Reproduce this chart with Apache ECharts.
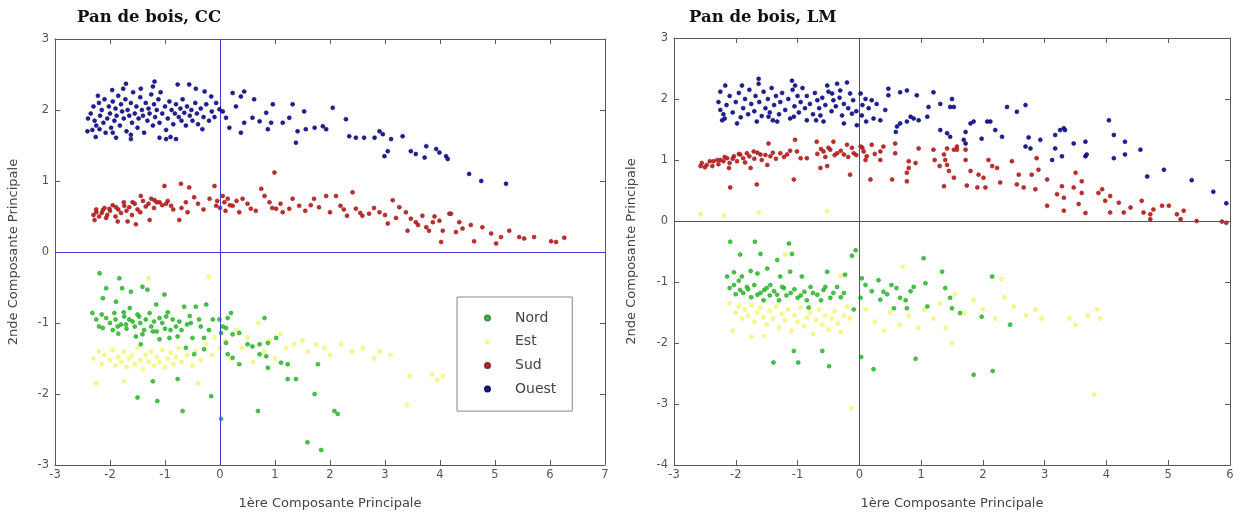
<!DOCTYPE html>
<html>
<head>
<meta charset="utf-8">
<script src="https://cdn.jsdelivr.net/npm/echarts@6/dist/echarts.min.js"></script>
<style>
  html, body { margin: 0; padding: 0; background: #fff; }
  #main { width: 1242px; height: 515px; }
</style>
</head>
<body>
<div id="main"></div>
<script>
// panel titles, legend and axis names
var titles = ['Pan de bois, CC', 'Pan de bois, LM'];
var groups = ['Nord', 'Est', 'Sud', 'Ouest'];
var xName = '1ère Composante Principale';
var yName = '2nde Composante Principale';

// axis ranges [min, max] (step 1)
var ccX = [-3, 7], ccY = [-3, 3];
var lmX = [-3, 6], lmY = [-4, 3];

// ---- Pan de bois, CC ----
var ccOuest = [
  [-1.71,2.37],[-1.19,2.40],[-1.22,2.33],[-0.77,2.36],[-0.56,2.36],[-0.44,2.30],[-0.28,2.26],[-0.16,2.19],
  [0.23,2.24],[0.44,2.26],[0.38,2.19],[-0.07,2.10],[-0.01,2.01],[0.05,1.98],[0.11,1.89],[0.17,1.75],
  [0.29,2.05],[0.62,2.15],[0.96,2.08],[0.84,1.96],[0.72,1.84],[0.59,1.89],[0.44,1.82],[0.38,1.68],
  [0.93,1.82],[0.87,1.73],[1.14,1.82],[1.26,1.89],[1.32,2.08],[1.53,1.98],[2.05,2.03],[1.41,1.70],
  [1.56,1.73],[1.72,1.75],[1.87,1.77],[1.93,1.73],[1.38,1.54],[2.29,1.87],[2.35,1.63],[2.47,1.61],
  [2.62,1.61],[2.81,1.61],[2.90,1.70],[2.96,1.66],[3.11,1.59],[3.32,1.63],[2.99,1.35],[3.05,1.42],
  [3.47,1.42],[3.56,1.38],[3.72,1.33],[3.75,1.49],[3.93,1.45],[3.99,1.40],[4.11,1.35],[4.14,1.31],
  [4.53,1.10],[4.75,1.00],[5.20,0.96],
  [-0.32,1.73],[-0.80,1.59],[-0.98,1.59],[-1.10,1.61],[-1.62,1.59],[-1.89,1.61],[-1.95,1.68],[-2.41,1.70],[-2.19,1.73],
  [-2.35,1.95],[-2.30,2.05],[-2.28,1.85],[-2.25,1.78],[-2.20,2.10],[-2.18,1.92],[-2.15,2.00],[-2.12,1.82],
  [-2.10,2.15],[-2.05,1.88],[-2.02,2.05],[-2.00,1.95],[-1.98,1.75],[-1.95,2.12],[-1.92,1.85],[-1.90,2.02],
  [-1.88,1.92],[-1.85,2.20],[-1.82,1.78],[-1.80,2.08],[-1.78,1.98],[-1.75,1.88],[-1.72,2.15],[-1.70,1.70],
  [-1.68,2.00],[-1.65,1.92],[-1.62,2.10],[-1.60,1.82],[-1.58,2.25],[-1.55,1.95],[-1.52,2.05],[-1.50,1.75],
  [-1.48,1.88],[-1.45,2.18],[-1.42,2.00],[-1.40,1.92],[-1.38,1.68],[-1.35,2.10],[-1.32,1.85],[-1.30,2.02],
  [-1.28,1.95],[-1.25,2.22],[-1.22,1.78],[-1.20,2.08],[-1.18,1.90],[-1.15,2.00],[-1.12,2.15],[-1.10,1.82],
  [-1.05,1.95],[-1.00,2.05],[-0.98,1.72],[-0.95,1.88],[-0.92,2.12],[-0.88,2.00],[-0.85,1.80],[-0.82,1.95],
  [-0.80,2.08],[-0.75,1.90],[-0.72,2.02],[-0.70,1.85],[-0.68,2.15],[-0.65,1.96],[-0.62,1.78],[-0.60,2.05],
  [-0.55,1.92],[-0.52,2.00],[-0.50,1.85],[-0.45,2.10],[-0.42,1.95],[-0.40,1.80],[-0.35,2.02],[-0.30,1.90],
  [-0.25,2.08],[-0.20,1.85],[-0.15,1.98],[-0.10,1.90],[-2.32,1.72],[-2.40,1.88],[-2.22,2.20],[-2.08,1.68],
  [-1.96,2.28],[-1.76,2.30],[-1.62,1.65],[-1.44,2.30],[-1.08,2.25],[-0.90,1.62],[-2.26,1.62]
];
var ccSud = [
  [0.99,1.12],[-1.01,0.93],[-0.71,0.96],[-0.56,0.91],[-0.10,0.93],[-0.47,0.77],[-0.62,0.70],[-0.59,0.56],
  [-0.74,0.45],[-1.28,0.45],[-1.53,0.39],[-1.68,0.43],[-1.86,0.43],[-2.07,0.48],[-2.28,0.45],[-2.25,0.56],
  [-2.13,0.59],[-2.01,0.61],[-1.89,0.63],[-1.74,0.65],[-1.59,0.70],[-1.44,0.79],[-1.19,0.73],[-1.10,0.70],
  [-0.98,0.68],[-0.89,0.65],[-0.19,0.75],[-0.07,0.65],[0.05,0.79],[0.14,0.75],[0.23,0.65],[0.35,0.56],
  [0.41,0.75],[0.56,0.61],[0.75,0.89],[0.81,0.79],[0.90,0.70],[1.02,0.61],[1.14,0.56],[1.26,0.61],
  [1.32,0.75],[1.44,0.65],[1.71,0.75],[1.80,0.63],[1.93,0.79],[2.11,0.79],[2.19,0.65],[2.31,0.51],
  [2.41,0.84],[2.47,0.61],[2.59,0.51],[2.71,0.54],[2.90,0.56],[3.05,0.40],[3.14,0.73],[3.26,0.63],
  [3.38,0.56],[3.47,0.47],[3.56,0.42],[3.68,0.51],[3.41,0.30],[3.75,0.35],[3.87,0.42],[4.02,0.14],
  [4.17,0.54],[3.99,0.44],[4.05,0.30],[4.20,0.54],[4.35,0.42],[4.41,0.33],[4.29,0.28],[4.56,0.38],
  [4.62,0.15],[4.77,0.35],[4.93,0.26],[5.02,0.12],[5.11,0.21],[5.26,0.30],[5.44,0.21],[5.53,0.19],
  [5.71,0.21],[6.02,0.15],[6.11,0.14],[6.26,0.20],
  [-2.30,0.52],[-2.25,0.60],[-2.20,0.50],[-2.15,0.55],[-2.10,0.62],[-2.05,0.52],[-2.00,0.58],[-1.95,0.66],
  [-1.90,0.50],[-1.85,0.60],[-1.80,0.55],[-1.75,0.70],[-1.70,0.58],[-1.65,0.63],[-1.60,0.52],[-1.55,0.68],
  [-1.50,0.60],[-1.45,0.56],[-1.40,0.72],[-1.35,0.64],[-1.30,0.68],[-1.25,0.75],[-1.20,0.62],[-1.15,0.70],
  [-1.05,0.66],[-0.95,0.72],[-0.85,0.60],[-0.70,0.62],[-0.40,0.68],[-0.30,0.60],[-0.05,0.72],[0.00,0.62],
  [0.08,0.70],[0.10,0.58],[0.18,0.66],[0.30,0.72],[0.50,0.68],[0.65,0.58],[0.95,0.62],[1.10,0.68],
  [1.55,0.58],[1.65,0.66],[2.00,0.56],[2.25,0.60],[2.55,0.55],[2.80,0.62],[3.00,0.52],[3.20,0.48],
  [3.60,0.38],[3.80,0.30],[3.90,0.50]
];
var ccNord = [
  [-2.19,-0.30],[-1.83,-0.37],[-2.07,-0.51],[-1.78,-0.51],[-1.62,-0.56],[-1.41,-0.49],[-1.32,-0.53],[-2.13,-0.65],
  [-1.89,-0.70],[-1.64,-0.79],[-1.01,-0.60],[-1.16,-0.74],[-2.32,-0.86],[-2.07,-0.93],[-1.92,-0.86],[-1.74,-0.91],
  [-1.59,-0.98],[-1.47,-0.91],[-1.28,-0.86],[-1.10,-0.93],[-0.98,-0.91],[-0.86,-0.95],[-0.74,-0.98],[-0.65,-0.77],
  [-0.44,-0.77],[-0.25,-0.74],[-0.53,-1.00],[-0.38,-0.95],[-0.13,-0.95],[-0.01,-0.95],[0.14,-0.93],[0.20,-0.86],
  [0.11,-1.07],[0.02,-1.14],[0.23,-1.16],[0.35,-1.14],[0.81,-0.93],[-2.13,-1.07],[-1.86,-1.05],[-1.71,-1.02],
  [-1.53,-1.19],[-1.41,-1.16],[-1.22,-1.12],[-1.10,-1.23],[-0.92,-1.21],[-0.77,-1.19],[-0.50,-1.21],[-0.29,-1.21],
  [-1.44,-1.30],[-0.62,-1.35],[-0.47,-1.44],[-0.29,-1.37],[0.11,-1.28],[0.14,-1.44],[0.23,-1.49],[0.35,-1.58],
  [0.50,-1.30],[0.59,-1.33],[0.72,-1.30],[0.87,-1.28],[1.02,-1.21],[0.72,-1.44],[0.84,-1.47],[0.87,-1.63],
  [1.11,-1.56],[1.23,-1.58],[1.23,-1.79],[1.38,-1.79],[1.78,-1.58],[1.72,-2.00],[2.08,-2.24],[2.14,-2.28],
  [-1.22,-1.82],[-0.77,-1.79],[-1.50,-2.05],[-1.14,-2.10],[-0.16,-2.03],[-0.68,-2.24],[0.69,-2.24],[0.02,-2.35],
  [1.59,-2.68],[1.84,-2.79],
  [-2.25,-0.95],[-2.20,-1.05],[-2.15,-0.88],[-2.00,-1.00],[-1.95,-1.10],[-1.90,-0.95],[-1.85,-1.15],[-1.80,-1.02],
  [-1.75,-0.85],[-1.70,-1.08],[-1.65,-0.95],[-1.55,-1.05],[-1.50,-0.88],[-1.45,-1.00],[-1.38,-1.10],[-1.35,-0.95],
  [-1.25,-1.05],[-1.20,-0.98],[-1.15,-1.12],[-1.05,-1.00],[-1.00,-1.08],[-0.95,-0.85],[-0.90,-1.10],[-0.80,-1.05],
  [-0.70,-1.10],[-0.60,-1.02],[-0.55,-0.90],[-0.35,-1.05],[-0.20,-1.10],[0.05,-1.05]
];
var ccEst = [
  [-2.30,-1.50],[-2.20,-1.40],[-2.15,-1.58],[-2.10,-1.45],[-2.00,-1.52],[-1.95,-1.38],[-1.90,-1.60],[-1.85,-1.48],
  [-1.80,-1.55],[-1.75,-1.40],[-1.70,-1.62],[-1.65,-1.50],[-1.60,-1.45],[-1.55,-1.58],[-1.50,-1.35],[-1.45,-1.52],
  [-1.40,-1.65],[-1.35,-1.45],[-1.30,-1.55],[-1.25,-1.40],[-1.20,-1.60],[-1.15,-1.48],[-1.10,-1.55],[-1.05,-1.38],
  [-1.00,-1.62],[-0.95,-1.50],[-0.90,-1.42],[-0.85,-1.58],[-0.80,-1.48],[-0.75,-1.35],[-0.70,-1.55],[-0.60,-1.45],
  [-0.50,-1.60],[-0.45,-1.40],[-0.35,-1.52],[-0.25,-1.30],[-0.15,-1.45],[-0.10,-1.20],[0.00,-1.35],[0.10,-1.25],
  [0.20,-1.50],[0.30,-1.10],[0.40,-1.35],[0.50,-1.20],[0.60,-1.55],[0.70,-1.00],[0.80,-1.40],[0.90,-1.25],
  [1.00,-1.50],[1.10,-1.15],[1.20,-1.35],[1.35,-1.30],[1.50,-1.25],[1.60,-1.40],[1.75,-1.30],[1.90,-1.35],
  [2.00,-1.45],[2.20,-1.30],[2.40,-1.40],[2.60,-1.35],[2.80,-1.50],[2.90,-1.40],[3.10,-1.45],[3.45,-1.75],
  [3.85,-1.72],[3.95,-1.80],[4.05,-1.75],[3.40,-2.15],[-1.75,-1.82],[-1.30,-0.37],[-0.20,-0.35],[-2.25,-1.85],
  [-0.40,-1.85]
];

// ---- Pan de bois, LM ----
var lmOuest = [
  [-2.17,2.22],[-1.63,2.33],[-1.63,2.25],[-1.09,2.30],[-1.04,2.22],[-0.52,2.22],[-0.36,2.25],[-0.20,2.27],
  [-0.31,2.14],[-0.44,2.09],[-0.15,2.09],[0.02,2.09],[0.10,2.00],[0.20,1.98],[0.47,2.17],[0.47,2.06],
  [0.66,2.11],[0.77,2.14],[0.93,2.06],[1.20,2.11],[0.42,1.82],[0.34,1.65],[0.23,1.68],[0.11,1.63],
  [-0.04,1.57],[-0.25,1.60],[-0.28,1.73],[-0.12,1.76],[0.04,1.73],[0.83,1.71],[0.88,1.68],[0.77,1.63],
  [0.66,1.60],[0.61,1.55],[0.59,1.46],[0.96,1.65],[1.10,1.71],[1.12,1.87],[1.31,1.92],[1.47,1.87],
  [1.31,1.49],[1.42,1.44],[1.47,1.38],[-0.58,1.63],[-0.63,1.73],[-0.85,1.65],[-1.06,1.71],[-1.33,1.63],
  [-1.47,1.71],[-1.66,1.63],[-1.98,1.60],[-2.22,1.65],[-2.25,1.82],[-2.28,1.95],
  [1.50,2.00],[1.53,1.87],[1.72,1.46],[1.80,1.60],[1.85,1.63],[1.69,1.33],[1.72,1.27],[2.07,1.63],
  [2.12,1.63],[2.20,1.49],[2.31,1.38],[2.39,1.87],[2.55,1.79],[2.69,1.90],[2.69,1.22],[2.77,1.19],
  [2.74,1.37],[2.93,1.33],[3.12,1.00],[3.17,1.19],[3.17,1.41],[3.25,1.49],[3.33,1.49],[3.31,1.52],
  [3.28,1.06],[3.47,1.27],[3.66,1.30],[3.66,1.06],[3.68,1.09],[4.04,1.65],[4.12,1.41],[4.30,1.30],
  [4.30,1.09],[4.12,1.03],[4.55,1.17],[4.66,0.73],[4.93,0.84],[5.38,0.67],[5.73,0.48],[5.94,0.29],[1.98,1.35],
  [-2.20,1.75],[-2.15,1.90],[-2.10,2.05],[-2.05,1.78],[-2.00,1.95],[-1.95,2.10],[-1.92,1.70],[-1.88,1.85],
  [-1.85,2.00],[-1.80,1.75],[-1.78,2.15],[-1.75,1.92],[-1.70,1.80],[-1.68,2.05],[-1.62,1.95],[-1.58,1.72],
  [-1.55,2.12],[-1.52,1.85],[-1.48,2.00],[-1.45,1.78],[-1.42,2.18],[-1.38,1.90],[-1.35,2.05],[-1.30,1.75],
  [-1.28,1.95],[-1.25,2.10],[-1.20,1.82],[-1.15,2.00],[-1.12,1.68],[-1.08,2.15],[-1.05,1.88],[-1.00,2.05],
  [-0.98,1.78],[-0.95,1.95],[-0.92,2.18],[-0.88,1.85],[-0.85,2.05],[-0.80,1.92],[-0.75,1.75],[-0.72,2.10],
  [-0.68,1.98],[-0.65,1.85],[-0.60,2.02],[-0.55,1.90],[-0.50,2.12],[-0.45,1.80],[-0.42,1.98],[-0.38,1.88],
  [-0.32,2.02],[-0.25,1.92],[-0.18,1.85],[-0.10,1.98],[-0.05,1.80],[0.05,1.90],[0.15,1.85],[0.28,1.92],
  [-2.18,1.68],[-1.90,2.22],[-1.40,1.65],[-0.70,1.65],[-2.25,2.12]
];
var lmSud = [
  [-1.47,1.27],[-1.04,1.33],[-0.69,1.30],[-0.42,1.30],[-0.20,1.25],[0.02,1.22],[0.20,1.25],[0.39,1.22],
  [0.58,1.27],[0.96,1.19],[1.20,1.17],[1.42,1.19],[1.58,1.22],[1.37,1.09],[1.39,1.00],[1.42,0.92],
  [0.91,0.95],[0.80,0.98],[0.80,0.87],[0.77,0.79],[0.77,0.65],[0.53,0.68],[0.18,0.68],[-0.15,0.76],
  [-0.52,0.90],[-0.63,0.87],[-1.06,0.68],[-1.49,0.92],[-1.76,0.87],[-1.66,0.60],[-2.09,0.55],[-2.11,0.87],
  [-2.57,0.90],[-2.47,0.92],[-2.36,0.98],[-2.25,1.00],[-2.14,1.03],[-2.03,1.06],[-1.93,1.09],[-1.82,1.11],
  [-1.71,1.14],[-1.60,1.09],[-1.44,1.06],[-1.28,1.11],[-1.17,1.09],[-1.01,1.14],[-0.95,1.03],[-0.85,1.03],
  [-0.58,1.14],[-0.47,1.17],[-0.36,1.11],[-0.25,1.09],[-0.09,1.11],[0.07,1.14],[0.12,1.06],[0.34,1.00],
  [0.34,1.14],[0.58,1.11],[1.37,0.57],[1.53,0.71],[1.53,1.17],
  [1.58,1.17],[1.72,1.17],[1.72,1.00],[1.80,0.82],[1.93,0.76],[2.01,0.71],[1.74,0.58],[1.91,0.55],
  [2.04,0.55],[2.09,1.00],[2.15,0.90],[2.23,0.87],[2.47,0.98],[2.58,0.76],[2.55,0.60],[2.66,0.55],
  [2.79,0.76],[2.87,1.03],[2.90,0.84],[2.85,0.52],[3.04,0.68],[3.04,0.25],[3.20,0.44],[3.28,0.57],
  [3.31,0.38],[3.31,0.17],[3.47,0.55],[3.50,0.79],[3.60,0.65],[3.60,0.46],[3.55,0.28],[3.66,0.13],
  [3.87,0.46],[3.93,0.52],[3.98,0.33],[4.06,0.41],[4.06,0.14],[4.20,0.30],[4.28,0.14],[4.39,0.22],
  [4.57,0.33],[4.60,0.14],[4.71,0.11],[4.71,0.03],[4.76,0.19],[4.90,0.25],[5.01,0.25],[5.14,0.11],
  [5.25,0.17],[5.20,0.03],[5.46,0.00],[5.87,-0.01],[5.94,-0.03],[2.28,0.63],
  [-2.55,0.95],[-2.50,0.88],[-2.42,0.98],[-2.38,0.90],[-2.30,1.00],[-2.28,0.93],[-2.20,0.98],[-2.18,1.05],
  [-2.10,0.95],[-2.05,1.02],[-1.98,0.98],[-1.95,1.10],[-1.88,1.03],[-1.85,0.96],[-1.78,1.06],[-1.70,1.02],
  [-1.65,1.12],[-1.58,1.00],[-1.52,1.08],[-1.40,1.12],[-1.35,1.02],[-1.22,1.05],[-1.12,1.15],[-0.68,1.10],
  [-0.62,1.18],[-0.55,1.05],[-0.50,1.20],[-0.40,1.08],[-0.30,1.15],[-0.18,1.05],[-0.12,1.20],[-0.05,1.08],
  [0.05,1.20],[0.10,1.00],[0.25,1.10],[1.22,1.00],[1.30,0.90],[1.45,0.82]
];
var lmNord = [
  [-2.09,-0.34],[-1.69,-0.34],[-1.14,-0.37],[-1.93,-0.55],[-1.60,-0.54],[-1.09,-0.54],[-1.33,-0.64],[-0.06,-0.48],
  [-0.12,-0.57],[-2.14,-0.91],[-2.03,-0.84],[-1.90,-0.91],[-1.76,-0.82],[-1.65,-0.86],[-1.49,-0.78],[-1.28,-0.91],
  [-1.12,-0.83],[-0.93,-0.91],[-0.52,-0.83],[-0.23,-0.88],[0.04,-0.94],[-2.03,-1.05],[-1.93,-1.13],[-1.82,-1.08],
  [-1.65,-1.21],[-1.54,-1.13],[-1.44,-1.05],[-1.33,-1.21],[-1.22,-1.10],[-1.11,-1.18],[-1.00,-1.26],[-0.89,-1.16],
  [-0.79,-1.08],[-0.68,-1.21],[-0.58,-1.13],[-0.47,-1.26],[-0.36,-1.08],[-0.25,-1.18],[-0.82,-1.42],[-0.09,-1.45],
  [0.02,-1.26],[0.10,-1.05],[0.31,-0.97],[0.39,-1.16],[0.34,-1.29],[0.56,-1.43],[0.52,-1.05],[0.66,-1.26],
  [0.83,-1.15],[0.88,-1.08],[0.77,-1.43],[1.04,-0.61],[1.07,-1.02],[1.10,-1.40],[1.34,-0.83],[1.39,-1.10],
  [1.47,-1.26],[1.50,-1.43],[1.63,-1.51],[1.98,-1.57],[2.15,-0.91],[2.44,-1.70],[-1.06,-2.13],[-0.60,-2.13],
  [-1.39,-2.32],[-0.99,-2.32],[-0.49,-2.38],[0.03,-2.23],[0.23,-2.43],[0.91,-2.26],[1.85,-2.52],[2.16,-2.46],
  [-2.10,-1.10],[-2.00,-1.20],[-1.95,-0.98],[-1.88,-1.18],[-1.80,-1.12],[-1.75,-1.25],[-1.70,-1.05],[-1.60,-1.18],
  [-1.55,-1.30],[-1.50,-1.10],[-1.45,-1.22],[-1.38,-1.15],[-1.30,-1.30],[-1.25,-1.08],[-1.18,-1.22],[-1.05,-1.12],
  [-0.95,-1.22],[-0.85,-1.30],[-0.75,-1.18],[-0.62,-1.30],[-0.55,-1.08],[-0.42,-1.18],[-0.30,-1.25],[0.20,-1.15],
  [0.45,-1.20],[0.60,-1.10],[0.75,-1.30]
];
var lmEst = [
  [-2.10,-1.35],[-2.00,-1.50],[-1.95,-1.40],[-1.90,-1.60],[-1.85,-1.45],[-1.80,-1.55],[-1.75,-1.38],[-1.70,-1.65],
  [-1.65,-1.50],[-1.60,-1.42],[-1.55,-1.58],[-1.50,-1.70],[-1.45,-1.48],[-1.40,-1.60],[-1.35,-1.40],[-1.30,-1.75],
  [-1.25,-1.52],[-1.20,-1.62],[-1.15,-1.45],[-1.10,-1.80],[-1.05,-1.55],[-1.00,-1.65],[-0.95,-1.42],[-0.90,-1.72],
  [-0.85,-1.58],[-0.80,-1.50],[-0.75,-1.85],[-0.70,-1.62],[-0.65,-1.45],[-0.60,-1.70],[-0.55,-1.55],[-0.50,-1.78],
  [-0.45,-1.60],[-0.40,-1.48],[-0.35,-1.68],[-0.30,-1.82],[-0.25,-1.55],[-0.20,-1.40],[-0.15,-1.60],[-1.75,-1.90],
  [-1.55,-1.88],[-2.05,-1.80],
  [0.10,-1.45],[0.25,-1.65],[0.40,-1.80],[0.50,-1.50],[0.65,-1.70],[0.80,-1.55],[0.95,-1.75],[1.05,-1.45],
  [1.20,-1.60],[1.30,-1.35],[1.40,-1.75],[1.55,-1.20],[1.70,-1.50],[1.85,-1.30],[2.00,-1.45],[2.20,-1.60],
  [2.35,-1.25],[2.50,-1.40],[2.70,-1.55],[2.85,-1.45],[2.95,-1.60],[3.40,-1.60],[3.50,-1.70],[3.70,-1.55],
  [3.85,-1.45],[3.90,-1.60],[0.70,-0.75],[2.30,-0.95],[-0.30,-0.90],[-2.57,0.11],[-2.19,0.09],[-1.63,0.14],
  [-0.52,0.16],[-0.13,-3.07],[3.80,-2.85],[1.50,-2.00],[-1.20,-0.55]
];

var colors = { Nord: '#2ad02a', Est: '#f0f04a', Sud: '#c81e1e', Ouest: '#12129a' };
var borders = { Nord: '#3a8a3a', Est: '#e8e870', Sud: '#8a2020', Ouest: '#0a0a60' };
var textColor = '#555';
var sans = 'DejaVu Sans';

var chart = echarts.init(document.getElementById('main'));

var grids = [
  { left: 55, top: 39, width: 550, height: 428 },
  { left: 674, top: 38, width: 556, height: 431 }
];

function xAxes(gi, range) {
  var base = {
    gridIndex: gi, type: 'value', min: range[0], max: range[1], interval: 1,
    splitLine: { show: false },
    axisLine: { show: true, onZero: false, lineStyle: { color: '#5a5a5a', width: 1 } },
    axisTick: { show: true, inside: true, length: 5, lineStyle: { color: '#5a5a5a' } }
  };
  var bottom = echarts.util.merge({
    position: 'bottom',
    name: xName, nameLocation: 'middle', nameGap: 32,
    nameTextStyle: { color: '#444', fontSize: 13, fontFamily: sans },
    axisLabel: { color: textColor, fontSize: 11.5, fontFamily: sans, margin: 4 }
  }, base, true);
  var top = echarts.util.merge({ position: 'top', axisLabel: { show: false } }, base, true);
  return [bottom, top];
}

function yAxes(gi, range, gap) {
  var base = {
    gridIndex: gi, type: 'value', min: range[0], max: range[1], interval: 1,
    splitLine: { show: false },
    axisLine: { show: true, onZero: false, lineStyle: { color: '#5a5a5a', width: 1 } },
    axisTick: { show: true, inside: true, length: 5, lineStyle: { color: '#5a5a5a' } }
  };
  var left = echarts.util.merge({
    position: 'left',
    name: yName, nameLocation: 'middle', nameGap: gap,
    nameTextStyle: { color: '#444', fontSize: 13, fontFamily: sans },
    axisLabel: { color: textColor, fontSize: 11.5, fontFamily: sans, margin: 6 }
  }, base, true);
  var right = echarts.util.merge({ position: 'right', axisLabel: { show: false } }, base, true);
  return [left, right];
}

var xs = xAxes(0, ccX).concat(xAxes(1, lmX));
var ys = yAxes(0, ccY, 35).concat(yAxes(1, lmY, 36));

function scatter(name, data, axisIdx, z) {
  var est = name === 'Est';
  return {
    name: name, type: 'scatter', data: data,
    xAxisIndex: axisIdx, yAxisIndex: axisIdx,
    symbol: 'circle', symbolSize: est ? 5 : 4,
    itemStyle: { color: colors[name], borderColor: borders[name], borderWidth: est ? 0 : 0.6, opacity: est ? 0.6 : 0.95 },
    z: z, silent: true, animation: false
  };
}

function zeroLines(axisIdx, color) {
  return {
    type: 'scatter', data: [], xAxisIndex: axisIdx, yAxisIndex: axisIdx, z: 1,
    markLine: {
      silent: true, symbol: 'none', animation: false, label: { show: false },
      lineStyle: { color: color, width: 1, type: 'solid', opacity: 1 },
      data: [{ xAxis: 0 }, { yAxis: 0 }]
    }
  };
}

var data = {
  cc: { Nord: ccNord, Est: ccEst, Sud: ccSud, Ouest: ccOuest },
  lm: { Nord: lmNord, Est: lmEst, Sud: lmSud, Ouest: lmOuest }
};
var zOrder = { Est: 2, Nord: 3, Sud: 4, Ouest: 5 };

var series = [zeroLines(0, '#3c3cd2'), zeroLines(2, '#555')];
groups.forEach(function (g) {
  series.push(scatter(g, data.cc[g], 0, zOrder[g]));
  series.push(scatter(g, data.lm[g], 2, zOrder[g]));
});

var titleStyle = { fontFamily: 'DejaVu Serif', fontWeight: 'bold', fontSize: 16.5, color: '#111' };

var option = {
  backgroundColor: '#fff',
  animation: false,
  title: [
    { text: titles[0], left: 72, top: 4, textStyle: titleStyle },
    { text: titles[1], left: 684, top: 4, textStyle: titleStyle }
  ],
  grid: grids,
  xAxis: xs,
  yAxis: ys,
  legend: {
    data: groups, orient: 'vertical', left: 457, top: 297,
    padding: [13, 16, 14, 27],
    itemGap: 7.7, itemWidth: 5, itemHeight: 5, icon: 'circle',
    backgroundColor: '#fff', borderColor: '#888', borderWidth: 1, borderRadius: 0,
    textStyle: { color: '#444', fontSize: 14, fontFamily: sans, padding: [0, 0, 0, 20], lineHeight: 16 },
    selectedMode: false
  },
  series: series
};
chart.setOption(option);
</script>
</body>
</html>
